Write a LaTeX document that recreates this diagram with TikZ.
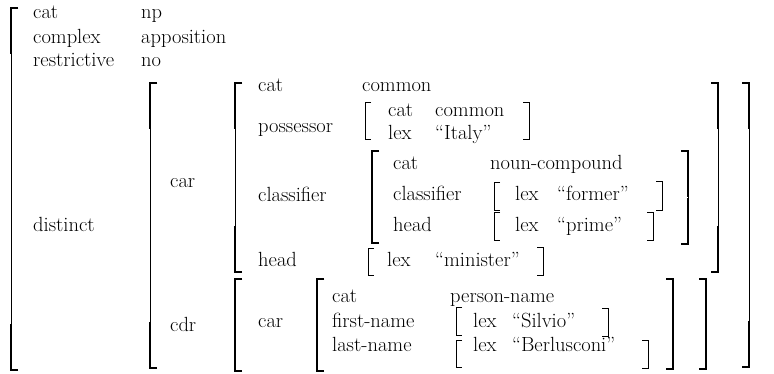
\documentclass[tikz,border=0pt]{standalone}
\tikzset{
  lbl/.style={anchor=base west, inner sep=0pt, font=\fontsize{20.5}{24}\selectfont},
  brk/.style={line width=0.8pt},
  brkend/.style={line width=2pt, line join=miter},
}
% brackets: x, top, bottom, length of the heavy ends
\newcommand\lbrk[4]{%
  \draw[brk] (#1,#2) ++(7,0) -- ++(-7,0) -- (#1,#3) -- ++(7,0);
  \draw[brkend] (#1,#2) ++(7,0) -- ++(-7,0) -- ++(0,#4);
  \draw[brkend] (#1,#3) ++(7,0) -- ++(-7,0) -- ++(0,-#4);}
\newcommand\rbrk[4]{%
  \draw[brk] (#1,#2) ++(-7,0) -- ++(7,0) -- (#1,#3) -- ++(-7,0);
  \draw[brkend] (#1,#2) ++(-7,0) -- ++(7,0) -- ++(0,#4);
  \draw[brkend] (#1,#3) ++(-7,0) -- ++(7,0) -- ++(0,-#4);}
% thin brackets round one row
\newcommand\lbrks[3]{\draw[brk] (#1,#2) ++(6,0) -- ++(-6,0) -- (#1,#3) -- ++(6,0);}
\newcommand\rbrks[3]{\draw[brk] (#1,#2) ++(-6,0) -- ++(6,0) -- (#1,#3) -- ++(-6,0);}
\begin{document}
\begin{tikzpicture}[x=1pt,y=-1pt]
\useasboundingbox (0,0) rectangle (774,374);
% outer matrix
\lbrk{11}{8}{370}{46}
\rbrk{749}{83}{367}{46}
\node[lbl] (cat0) at (33,19) {cat};
\node[lbl] (np) at (141,19) {np};
\node[lbl] (cpx) at (33,44) {complex};
\node[lbl] (appo) at (141,44) {apposition};
\node[lbl] (restr) at (33,67) {restrictive};
\node[lbl] (no) at (141,67) {no};
\node[lbl] (dist) at (33,232) {distinct};
% distinct
\lbrk{150}{83}{368}{46}
\node[lbl] (car1) at (170,188) {car};
\node[lbl] (cdr) at (170,331) {cdr};
% car
\lbrk{235}{83}{272}{46}
\rbrk{718}{83}{272}{46}
\node[lbl] (cat1) at (258,92) {cat};
\node[lbl] (common1) at (362,92) {common};
\node[lbl] (poss) at (258,133) {possessor};
\node[lbl] (clsf1) at (258,202) {classifier};
\node[lbl] (head1) at (258,267) {head};
% possessor
\lbrks{365}{102}{139}
\rbrks{529}{102}{139}
\node[lbl] (cat2) at (388,117) {cat};
\node[lbl] (common2) at (435,117) {common};
\node[lbl] (lex1) at (388,140) {lex};
\node[lbl] (italy) at (435,140) {``Italy''};
% classifier
\lbrk{372}{151}{243}{46}
\rbrk{688}{151}{244}{46}
\node[lbl] (cat3) at (393,170) {cat};
\node[lbl] (ncomp) at (490,170) {noun-compound};
\node[lbl] (clsf2) at (393,201) {classifier};
\node[lbl] (head2) at (393,232) {head};
\lbrks{494}{182}{210}
\rbrks{662}{181}{210}
\node[lbl] (lex2) at (515,201) {lex};
\node[lbl] (former) at (557,201) {``former''};
\lbrks{494}{212}{240}
\rbrks{653}{212}{240}
\node[lbl] (lex3) at (515,232) {lex};
\node[lbl] (prime) at (557,232) {``prime''};
% head
\lbrks{368}{248}{275}
\rbrks{543}{247}{275}
\node[lbl] (lex4) at (387,267) {lex};
\node[lbl] (minister) at (435,267) {``minister''};
% cdr
\lbrk{235}{279}{371}{46}
\rbrk{706}{279}{369}{45}
\node[lbl] (car2) at (258,327) {car};
\lbrk{317}{279}{371}{46}
\rbrk{673}{279}{369}{45}
\node[lbl] (cat4) at (332,302) {cat};
\node[lbl] (pname) at (450,302) {person-name};
\node[lbl] (fname) at (332,327) {first-name};
\node[lbl] (lname) at (332,351) {last-name};
\lbrks{456}{307}{335}
\rbrks{608}{308}{336}
\node[lbl] (lex5) at (473,327) {lex};
\node[lbl] (silvio) at (512,327) {``Silvio''};
\lbrks{456}{340}{367}
\rbrks{648}{340}{368}
\node[lbl] (lex6) at (473,351) {lex};
\node[lbl] (berl) at (512,351) {``Berlusconi''};
\end{tikzpicture}
\end{document}
